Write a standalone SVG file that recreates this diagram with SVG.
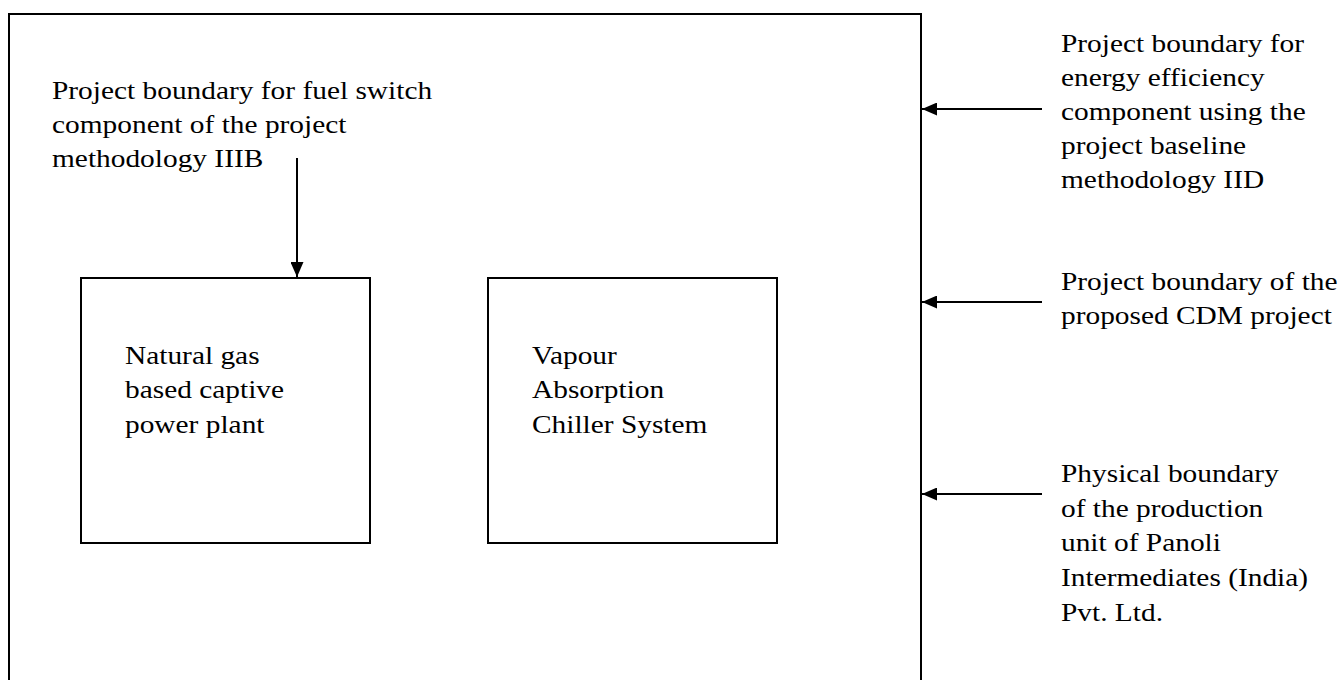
<svg xmlns="http://www.w3.org/2000/svg" width="1341" height="680" viewBox="0 0 1341 680">
<style>
text{font-family:"Liberation Serif","Times New Roman",serif;font-size:26px;fill:#000}
.box{fill:#fff;stroke:#000;stroke-width:2}
.con{stroke:#000;stroke-width:2;fill:none}
</style>
<defs>
<marker id="ah" markerUnits="userSpaceOnUse" markerWidth="15" markerHeight="13" refX="15" refY="6.5" orient="auto">
<path d="M0,0 L15,6.5 L0,13 z" fill="#000"/>
</marker>
</defs>
<rect width="1341" height="680" fill="#fff"/>
<g id="outer-boundary">
<rect class="box" x="9" y="14" width="912" height="700" fill="none"/>
</g>
<g id="label-fuel-switch" transform="translate(52,0) scale(1.13,1)">
<text x="0" y="99">Project boundary for fuel switch</text>
<text x="0" y="133">component of the project</text>
<text x="0" y="167">methodology IIIB</text>
</g>
<g id="label-energy-efficiency" transform="translate(1061,0) scale(1.13,1)">
<text x="0" y="52">Project boundary for</text>
<text x="0" y="86">energy efficiency</text>
<text x="0" y="120">component using the</text>
<text x="0" y="154">project baseline</text>
<text x="0" y="188">methodology IID</text>
</g>
<g id="label-cdm" transform="translate(1061,0) scale(1.13,1)">
<text x="0" y="290">Project boundary of the</text>
<text x="0" y="324">proposed CDM project</text>
</g>
<g id="label-physical" transform="translate(1061,0) scale(1.13,1)">
<text x="0" y="482">Physical boundary</text>
<text x="0" y="517">of the production</text>
<text x="0" y="551">unit of Panoli</text>
<text x="0" y="586">Intermediates (India)</text>
<text x="0" y="621">Pvt. Ltd.</text>
</g>
<g id="node-power-plant">
<rect class="box" x="81" y="278" width="289" height="265"/>
<g transform="translate(125,0) scale(1.13,1)">
<text x="0" y="364">Natural gas</text>
<text x="0" y="398">based captive</text>
<text x="0" y="433">power plant</text>
</g>
</g>
<g id="node-chiller">
<rect class="box" x="488" y="278" width="289" height="265"/>
<g transform="translate(532,0) scale(1.13,1)">
<text x="0" y="364">Vapour</text>
<text x="0" y="398">Absorption</text>
<text x="0" y="433">Chiller System</text>
</g>
</g>
<g id="connectors">
<line class="con" x1="297" y1="158" x2="297" y2="277" marker-end="url(#ah)"/>
<line class="con" x1="1042" y1="109" x2="922" y2="109" marker-end="url(#ah)"/>
<line class="con" x1="1042" y1="302" x2="922" y2="302" marker-end="url(#ah)"/>
<line class="con" x1="1042" y1="494" x2="922" y2="494" marker-end="url(#ah)"/>
</g>
</svg>
